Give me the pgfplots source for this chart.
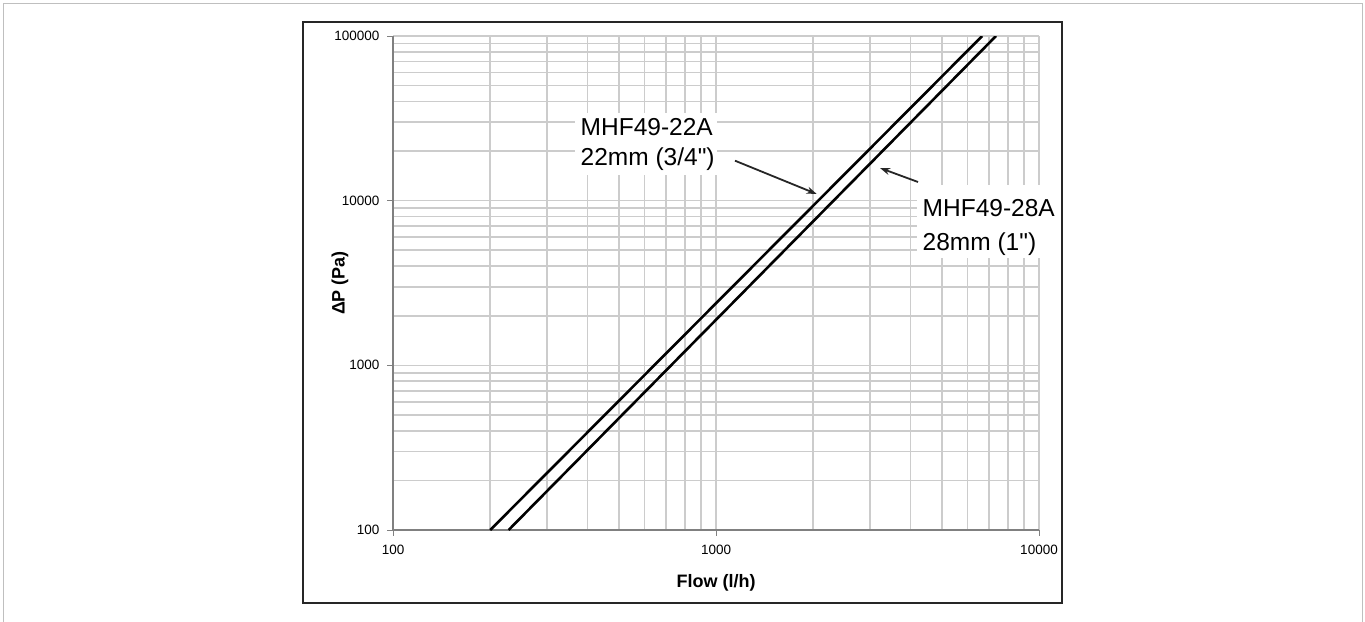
\documentclass[border=0pt]{standalone}
\usepackage{fontspec}
\setmainfont{Liberation Sans}
\newfontfamily\annfont{Liberation Sans}[Ligatures=TeXOff]
\usepackage{pgfplots}
\pgfplotsset{compat=1.18}
\usetikzlibrary{arrows.meta}
\begin{document}
\begin{tikzpicture}
\useasboundingbox (0,0) rectangle (1365pt,-621pt);
\fill[white] (0,0) rectangle (1365pt,-621pt);
\draw[color=gray!50, line width=1.5pt] (3.5pt,-640pt) -- (3.5pt,-3.5pt) -- (1362.5pt,-3.5pt) -- (1362.5pt,-640pt);
\draw[black!85, line width=2pt] (303pt,-22pt) rectangle (1062pt,-603pt);
\begin{axis}[at={(393pt,-530pt)}, anchor=south west, scale only axis,
  width=646pt, height=494pt,
  xmode=log, ymode=log, xmin=100, xmax=10000, ymin=100, ymax=100000,
  axis x line*=bottom, axis y line*=left,
  axis line style={draw=black!50, line width=2pt},
  grid=both,
  major grid style={draw=black!20, line width=1.6pt},
  minor grid style={draw=black!20, line width=1.6pt},
  xtick={100,1000,10000}, xticklabels={100,1000,10000},
  ytick={100,1000,10000,100000}, yticklabels={100,1000,10000,100000},
  minor xtick={200,300,400,500,600,700,800,900,2000,3000,4000,5000,6000,7000,8000,9000},
  minor ytick={200,300,400,500,600,700,800,900,2000,3000,4000,5000,6000,7000,8000,9000,20000,30000,40000,50000,60000,70000,80000,90000},
  tick align=outside, major tick length=6pt, minor tick length=0pt,
  tick style={draw=black!50, line width=1pt},
  ticklabel style={font=\fontsize{13.5}{14}\selectfont},
  xticklabel style={yshift=-6pt},
  yticklabel style={xshift=-4pt},
  xlabel={Flow (l/h)}, ylabel={ΔP (Pa)},
  xlabel style={at={(axis description cs:0.5,-0.1073)}, anchor=center, font=\fontsize{18}{18}\selectfont\bfseries},
  ylabel style={at={(axis description cs:-0.082,0.5)}, anchor=center, font=\fontsize{18}{18}\selectfont\bfseries},
  clip=true,
]
\addplot[black, line width=2.6pt] coordinates {(200,100) (6670,100000)};
\addplot[black, line width=2.6pt] coordinates {(228,100) (7360,100000)};
\end{axis}
\fill[white] (575pt,-113pt) rectangle (717pt,-175pt);
\node[anchor=base west, inner sep=0pt, font=\annfont\fontsize{24.5}{30}\selectfont] at (580.5pt,-135pt) {MHF49-22A};
\node[anchor=base west, inner sep=0pt, font=\annfont\fontsize{24.5}{30}\selectfont] at (580.5pt,-165pt) {22mm (3/4")};
\fill[white] (917pt,-185pt) rectangle (1058pt,-258pt);
\node[anchor=base west, inner sep=0pt, font=\annfont\fontsize{24.5}{30}\selectfont] at (922.5pt,-216.5pt) {MHF49-28A};
\node[anchor=base west, inner sep=0pt, font=\annfont\fontsize{24.5}{30}\selectfont] at (922.5pt,-250.5pt) {28mm (1")};
\draw[black!85, line width=1.8pt, -{Stealth[length=10pt,width=7pt]}] (735pt,-160.7pt) -- (816.7pt,-194pt);
\draw[black!85, line width=1.8pt, -{Stealth[length=10pt,width=7pt]}] (918pt,-182pt) -- (880pt,-168pt);
\end{tikzpicture}
\end{document}
